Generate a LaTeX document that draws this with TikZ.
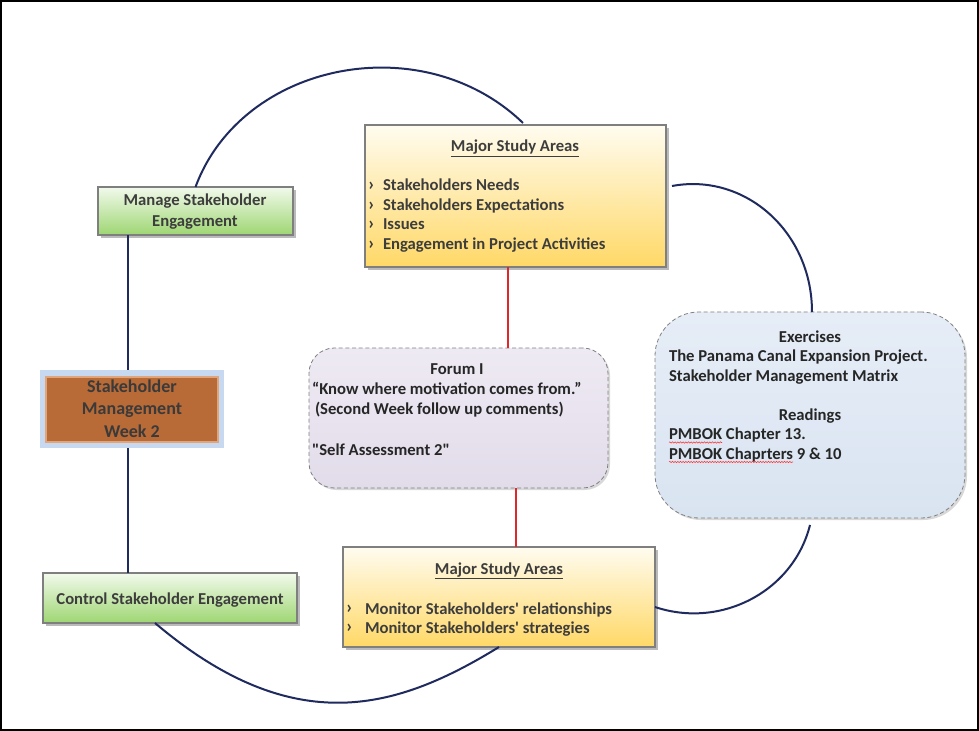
\documentclass[tikz,border=0pt]{standalone}
\usepackage{fontspec}
\setmainfont{Carlito}[Ligatures=TeXOff]
\usetikzlibrary{shadows,calc,fit,decorations.pathmorphing}
\definecolor{navy}{HTML}{1F2B5E}
\definecolor{redl}{HTML}{E0282C}
\definecolor{framegray}{HTML}{7F7F7F}
\definecolor{txt}{HTML}{3D3D3D}
\definecolor{txtd}{HTML}{262626}
\definecolor{ytop}{HTML}{FFFCF0}
\definecolor{ybot}{HTML}{FFD866}
\definecolor{gtop}{HTML}{F2FAEC}
\definecolor{gbot}{HTML}{9ED672}
\definecolor{lav}{HTML}{E2DCEA}
\definecolor{lavtop}{HTML}{EEEAF3}
\definecolor{sky}{HTML}{D9E4F1}
\definecolor{skytop}{HTML}{E6EDF7}
\definecolor{smblue}{HTML}{C6D9F0}
\definecolor{brownf}{HTML}{B86A37}
\definecolor{browne}{HTML}{E0A57A}
\definecolor{smtxt}{HTML}{3A3A3A}
\newcommand\bulA{\makebox[11.25pt][l]{\raisebox{0.2pt}{\fontsize{14}{14}\selectfont ›}}}
\newcommand\bulB{\makebox[14.25pt][l]{\raisebox{0.2pt}{\fontsize{14}{14}\selectfont ›}}}
\begin{document}
\begin{tikzpicture}[x=0.75pt,y=-0.75pt,
  font=\fontsize{12.5}{14.6}\selectfont\bfseries,
  sqbox/.style={rectangle, draw=framegray, line width=2pt, inner sep=0pt, outer sep=0pt,
    drop shadow={shadow xshift=2pt, shadow yshift=-2pt, opacity=0.45, fill=black!60}},
  yellowbox/.style={sqbox, top color=ytop, bottom color=ybot},
  greenbox/.style={sqbox, top color=gtop, bottom color=gbot},
  roundbox/.style={rectangle, draw=black!50, densely dashed, line width=0.6pt, inner sep=0pt, outer sep=0pt,
    drop shadow={shadow xshift=1.5pt, shadow yshift=-1.5pt, opacity=0.3, fill=black!50}},
  conn/.style={draw=navy, line width=1.5pt},
  redconn/.style={draw=redl, line width=2pt},
  lbl/.style={text=txt, inner sep=0pt, outer sep=0pt},
  lbld/.style={text=txtd, inner sep=0pt, outer sep=0pt},
  squig/.style={draw=red!80, line width=0.4pt, decorate, decoration={snake, amplitude=0.5pt, segment length=2pt}}
]
\useasboundingbox (0,0) rectangle (979,731);
\fill[white] (0,0) rectangle (979,731);
\draw[black, line width=1.5pt] (1,1) rectangle (978,730);

% boxes
\node[yellowbox, fit={(365,125)(666,267)}] (msa1) {};
\node[greenbox, fit={(98,187)(293,235)}] (manage) {};
\node[fill=smblue, inner sep=0pt, outer sep=0pt, fit={(40,370)(224,448)}] (sm) {};
\node[fill=brownf, draw=browne, line width=0.8pt, inner sep=0pt, outer sep=0pt, fit={(46,377)(218,442)}] (smin) {};
\node[roundbox, rounded corners=19pt, top color=lavtop, bottom color=lav, fit={(309,348)(608,488)}] (forum) {};
\node[roundbox, rounded corners=33pt, top color=skytop, bottom color=sky, fit={(655,312)(965,518)}] (ex) {};
\node[yellowbox, fit={(343,547)(655,647)}] (msa2) {};
\node[greenbox, fit={(43,573)(297,623)}] (control) {};

% connectors
\coordinate (lx) at ($(sm.north)+(-4,0)$);
\draw[conn] (lx |- manage.south) -- (lx);
\draw[conn] (lx |- sm.south) -- (lx |- control.north);
\coordinate (r1) at ($(msa1.south)+(-7.5,0)$);
\draw[redconn] (r1) -- (r1 |- forum.north);
\coordinate (r2) at ($(msa2.north)+(17,0)$);
\draw[redconn] (r2 |- forum.south) -- (r2);
\draw[conn] (manage.north) .. controls (241.8,61.8) and (422.6,26.1) .. ($(msa1.north)+(7.5,-2)$);
\draw[conn] ($(msa1.east)+(6,-10)$) .. controls (744.9,172.4) and (812,231.7) .. ($(ex.north)+(2,0)$);
\draw[conn] ($(ex.south)+(0,7)$) .. controls (793.4,591.3) and (721.2,629.2) .. ($(msa2.east)+(0,10)$);
\draw[conn] ($(control.south)+(-15,0)$) .. controls (295.4,742) and (398.8,708.5) .. (msa2.south);

% texts: top study areas
\node[lbl, anchor=base] (t1) at (515,152) {\underline{Major Study Areas}};
\node[lbl, anchor=base west] (t1a) at (368,191) {\bulA Stakeholders Needs};
\node[lbl, anchor=base west] (t1b) at (368,210.5) {\bulA Stakeholders Expectations};
\node[lbl, anchor=base west] (t1c) at (368,230) {\bulA Issues};
\node[lbl, anchor=base west] (t1d) at (368,249.5) {\bulA Engagement in Project Activities};

% manage
\node[lbl, anchor=base] (m1) at (195,206) {Manage Stakeholder};
\node[lbl, anchor=base] (m2) at (195,227) {Engagement};

% stakeholder management
\node[text=smtxt, inner sep=0pt, anchor=base, font=\fontsize{13.5}{16}\selectfont\bfseries] (s1) at (132,392) {Stakeholder};
\node[text=smtxt, inner sep=0pt, anchor=base, font=\fontsize{13.5}{16}\selectfont\bfseries] (s2) at (132,414.5) {Management};
\node[text=smtxt, inner sep=0pt, anchor=base, font=\fontsize{13.5}{16}\selectfont\bfseries] (s3) at (132,437) {Week 2};

% forum
\node[lbld, anchor=base] (f1) at (457,374) {Forum I};
\node[lbld, anchor=base west] (f2) at (312,394) {“Know where motivation comes from.”};
\node[lbld, anchor=base west] (f3) at (315,414) {(Second Week follow up comments)};
\node[lbld, anchor=base west] (f4) at (312,455) {"Self Assessment 2"};

% exercises
\node[lbld, anchor=base] (e1) at (810,342) {Exercises};
\node[lbld, anchor=base west] (e2) at (669,361.5) {The Panama Canal Expansion Project.};
\node[lbld, anchor=base west] (e3) at (669,381) {Stakeholder Management Matrix};
\node[lbld, anchor=base] (e4) at (810,420) {Readings};
\node[lbld, anchor=base west] (pm1) at (669,439.5) {PMBOK};
\node[lbld, anchor=base west] (e5) at (pm1.base east) {\ Chapter 13.};
\node[lbld, anchor=base west] (pm2) at (669,459) {PMBOK Chaprters};
\node[lbld, anchor=base west] (e6) at (pm2.base east) {\ 9 \& 10};
\draw[squig] ($(pm1.base west)+(0,3)$) -- ($(pm1.base east)+(0,3)$);
\draw[squig] ($(pm2.base west)+(0,3)$) -- ($(pm2.base east)+(0,3)$);

% bottom study areas
\node[lbl, anchor=base] (t2) at (499,574) {\underline{Major Study Areas}};
\node[lbl, anchor=base west] (t2a) at (346,614) {\bulB Monitor Stakeholders' relationships};
\node[lbl, anchor=base west] (t2b) at (346,633) {\bulB Monitor Stakeholders' strategies};

% control
\node[lbl, anchor=base] (c1) at (170,604) {Control Stakeholder Engagement};
\end{tikzpicture}
\end{document}
